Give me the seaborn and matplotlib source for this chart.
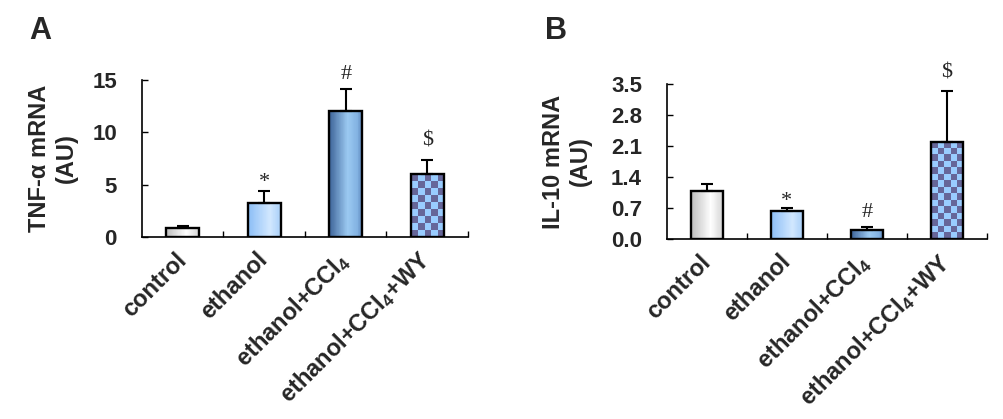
import numpy as np
import pandas as pd
import matplotlib
matplotlib.use("Agg")
import matplotlib.pyplot as plt
from matplotlib.colors import to_rgb
import seaborn as sns

groups = ["control", "ethanol", "ethanol+CCl$_4$", "ethanol+CCl$_4$+WY"]

tnf_mean = [0.85, 3.2, 12.0, 6.0]
tnf_err = [0.2, 1.2, 2.1, 1.4]
tnf_marks = ["", "*", "#", "\\$"]

il10_mean = [1.09, 0.64, 0.21, 2.2]
il10_err = [0.15, 0.07, 0.05, 1.14]
il10_marks = ["", "*", "#", "\\$"]

sns.set_style("ticks")
plt.rcParams["font.family"] = ["Liberation Sans", "DejaVu Sans"]
plt.rcParams["mathtext.fontset"] = "custom"
plt.rcParams["mathtext.rm"] = "Liberation Sans:bold"
plt.rcParams["mathtext.default"] = "rm"

# fill styles for each bar (gradient stops or checker)
fills = [
    ("grad", [0, 0.6, 1], ["#bdbdbd", "#ffffff", "#d2d2d2"]),
    ("grad", [0, 0.65, 1], ["#8cbef6", "#d2e8ff", "#a6cef8"]),
    ("grad", [0, 0.55, 0.85, 1], ["#3d6398", "#9ccaf2", "#82b2e2", "#557cb2"]),
    ("checker", None, ["#99ccff", "#666699"]),
]


def fill_bars(ax):
    for patch, (kind, stops, cols) in zip(list(ax.patches), fills):
        x0, y0 = patch.get_x(), patch.get_y()
        w, h = patch.get_width(), patch.get_height()
        if kind == "grad":
            pos = np.linspace(0, 1, 60)
            rgb = np.array([to_rgb(c) for c in cols])
            img = np.stack([np.interp(pos, stops, rgb[:, k]) for k in range(3)], axis=-1)[None, :, :]
        else:
            p0 = ax.transData.transform((x0, y0))
            p1 = ax.transData.transform((x0 + w, y0 + h))
            ncol = 5
            cell = abs(p1[0] - p0[0]) / ncol
            nrow = max(1, int(round(abs(p1[1] - p0[1]) / cell)))
            ii, jj = np.indices((nrow, ncol))
            a, b = np.array(to_rgb(cols[0])), np.array(to_rgb(cols[1]))
            img = np.where(((ii + jj) % 2 == 0)[..., None], b, a)
        im = ax.imshow(img, extent=[x0, x0 + w, y0, y0 + h], aspect="auto",
                       origin="lower", interpolation="nearest", zorder=2)
        im.set_clip_path(patch)
        patch.set_facecolor("none")
        patch.set_edgecolor("black")
        patch.set_linewidth(1.7)
        patch.set_zorder(3)


def draw_panel(fig, rect, means, errs, marks, ylim, yticks, fmt, ylabel, label_x, offs):
    ax = fig.add_axes(rect)
    df = pd.DataFrame({"group": groups, "value": means})
    sns.barplot(data=df, x="group", y="value", ax=ax, width=0.41, errorbar=None, color="white")
    ax.set_xlim(-0.5, len(groups) - 0.5)
    ax.set_ylim(*ylim)
    fill_bars(ax)
    ax.set_xlim(-0.5, len(groups) - 0.5)
    ax.set_ylim(*ylim)
    pos = np.arange(len(groups))
    ax.errorbar(pos, means, yerr=[np.zeros(len(errs)), errs], fmt="none", ecolor="black",
                elinewidth=1.5, capsize=4.5, capthick=1.5, zorder=4)
    for i, m in enumerate(marks):
        if m:
            ax.annotate(m, (pos[i], means[i] + errs[i]), xytext=(0, offs[i]),
                        textcoords="offset points", ha="center", va="center",
                        fontsize=16, family="Liberation Serif")
    ax.set_yticks(yticks)
    ax.set_yticklabels([fmt.format(v) for v in yticks], fontsize=16, fontweight="bold")
    ax.set_xticks(pos)
    ax.set_xticklabels(groups, fontsize=17, fontweight="bold", rotation=45,
                       ha="right", va="center", rotation_mode="anchor")
    ax.set_xticks(pos + 0.5, minor=True)
    ax.tick_params(axis="x", which="major", length=0, pad=14)
    ax.tick_params(axis="x", which="minor", direction="in", length=4, width=1, color="black")
    ax.tick_params(axis="y", direction="in", length=4, width=1, color="black", pad=18)
    sns.despine(ax=ax)
    for s in ["left", "bottom"]:
        ax.spines[s].set_linewidth(1.2)
        ax.spines[s].set_color("black")
    ax.set_xlabel("")
    ax.set_ylabel(ylabel, fontsize=17, fontweight="bold", linespacing=1.2)
    ax.yaxis.set_label_coords(label_x, 0.5)
    return ax


fig = plt.figure(figsize=(10.04, 4.19), dpi=100)

draw_panel(fig, [0.1414, 0.4344, 0.3247, 0.3747], tnf_mean, tnf_err, tnf_marks,
           (0, 15), [0, 5, 10, 15], "{:.0f}", "TNF-α mRNA\n(AU)", -0.196, [0, 6, 11, 13])
draw_panel(fig, [0.6643, 0.4296, 0.3187, 0.370], il10_mean, il10_err, il10_marks,
           (0, 3.5), [0, 0.7, 1.4, 2.1, 2.8, 3.5], "{:.1f}", "IL-10 mRNA\n(AU)", -0.234, [0, 4.5, 11, 13])

fig.text(0.029, 0.907, "A", fontsize=22, fontweight="bold", va="baseline")
fig.text(0.543, 0.907, "B", fontsize=22, fontweight="bold", va="baseline")

fig.savefig("out.png", dpi=100)
